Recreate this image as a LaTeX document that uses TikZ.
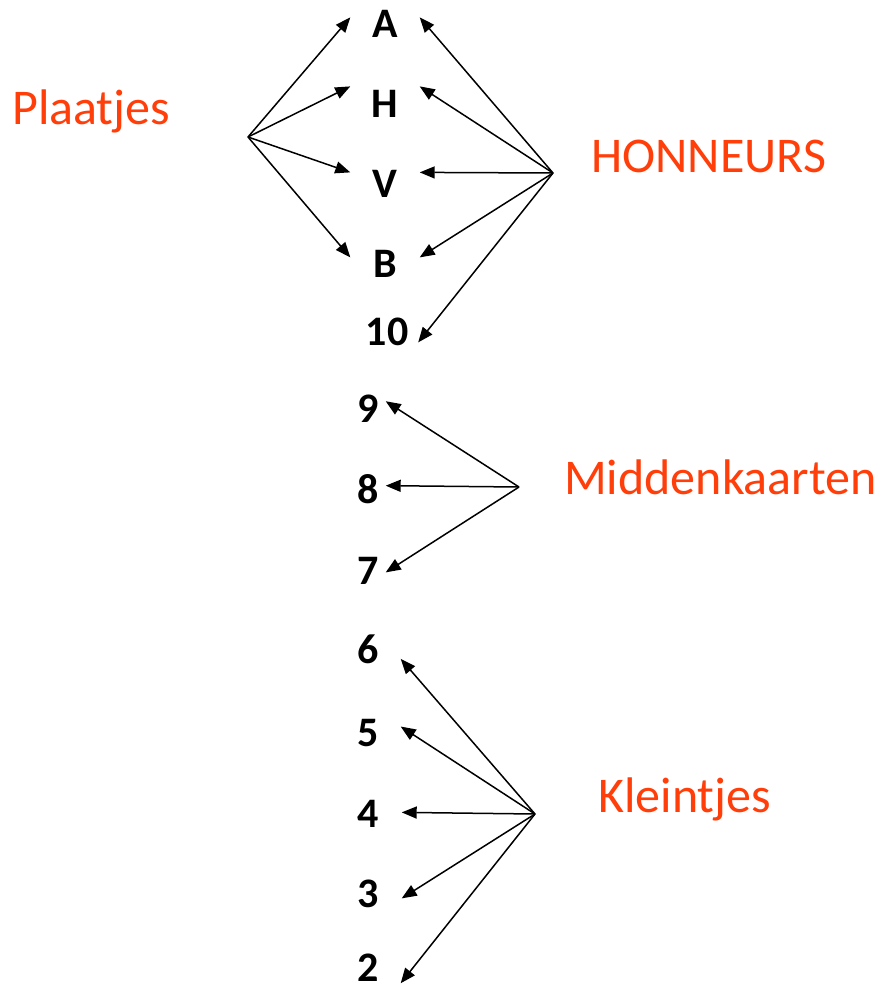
\documentclass[tikz,border=0pt]{standalone}
\usepackage{fontspec}
\setmainfont{Carlito}
\usetikzlibrary{arrows.meta}
\definecolor{lbl}{RGB}{255,62,10}
\begin{document}
\begin{tikzpicture}[x=1pt,y=-1pt,
  card/.style={anchor=base,inner sep=0pt,font=\fontsize{42}{42}\selectfont\bfseries},
  grp/.style={anchor=base west,inner sep=0pt,text=lbl,font=\fontsize{50}{50}\selectfont},
  arr/.style={line width=1.5pt,-{Triangle[length=15pt,width=12pt]}}]
\useasboundingbox (0,0) rectangle (883,988);
% cards
\node[card,minimum width=69pt] (A) at (385,37) {A};
\node[card,minimum width=69pt] (H) at (385,117) {H};
\node[card,minimum width=69pt] (V) at (385,197) {V};
\node[card,minimum width=69pt] (B) at (385,277) {B};
\node[card,minimum width=62pt] (c10) at (387,345) {10};
\node[card,minimum width=35pt] (c9) at (368,422) {9};
\node[card,minimum width=35pt] (c8) at (368,503) {8};
\node[card,minimum width=35pt] (c7) at (368,584) {7};
\node[card,minimum width=65pt] (c6) at (368,663) {6};
\node[card,minimum width=65pt] (c5) at (368,746) {5};
\node[card,minimum width=67pt] (c4) at (368,827) {4};
\node[card,minimum width=67pt] (c3) at (368,907) {3};
\node[card,minimum width=65pt] (c2) at (368,981) {2};
% group labels
\node[grp] (plaatjes) at (12,124) {Plaatjes};
\node[grp] (honneurs) at (591,172) {HONNEURS};
\node[grp] (midden) at (564,494) {Middenkaarten};
\node[grp] (klein) at (598,812) {Kleintjes};
% hubs
\coordinate (pl) at (248,137);
\coordinate (ho) at (553,173);
\coordinate (mi) at (519,487);
\coordinate (kl) at (535,814);
% arrows
\draw[arr] (pl) -- ([yshift=6pt]A.west);
\draw[arr] (pl) -- ([yshift=17pt]H.west);
\draw[arr] (pl) -- ([yshift=11pt]V.west);
\draw[arr] (pl) -- ([yshift=6pt]B.west);
\draw[arr] (ho) -- ([yshift=6pt]A.east);
\draw[arr] (ho) -- ([yshift=17pt]H.east);
\draw[arr] (ho) -- ([yshift=11pt]V.east);
\draw[arr] (ho) -- ([yshift=6pt]B.east);
\draw[arr] (ho) -- ([yshift=-11pt]c10.east);
\draw[arr] (mi) -- ([yshift=7pt]c9.east);
\draw[arr] (mi) -- ([yshift=3pt]c8.east);
\draw[arr] (mi) -- ([yshift=-2pt]c7.east);
\draw[arr] (kl) -- ([yshift=-10pt]c6.east);
\draw[arr] (kl) -- ([yshift=6pt]c5.east);
\draw[arr] (kl) -- ([yshift=1pt]c4.east);
\draw[arr] (kl) -- ([yshift=-5pt]c3.east);
\draw[arr] (kl) -- ([yshift=-16pt]c2.east);
\end{tikzpicture}
\end{document}
